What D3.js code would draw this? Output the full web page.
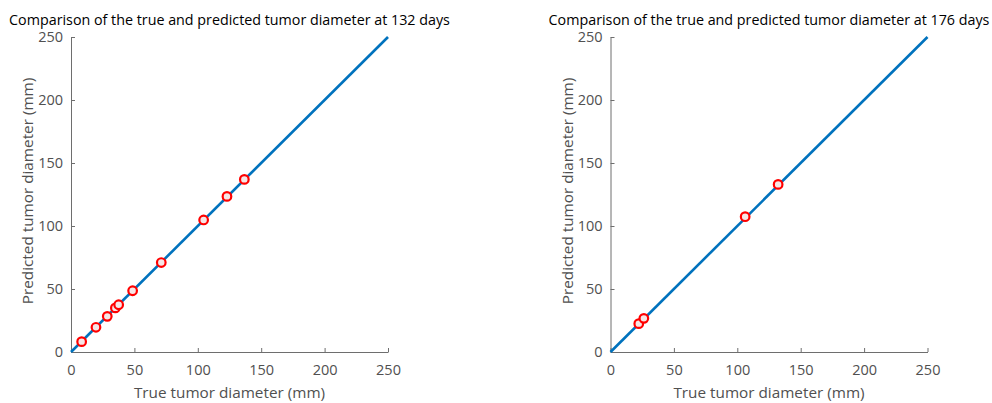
<!DOCTYPE html>
<html>
<head>
<meta charset="utf-8">
<script src="https://cdn.jsdelivr.net/npm/d3@7"></script>
<style>
  html, body { margin: 0; padding: 0; background: #fff; }
  svg { display: block; }
  text { font-family: "Open Sans", "Noto Sans", sans-serif; }
</style>
</head>
<body>
<svg id="chart" width="992" height="403"></svg>
<script>
// Observed vs. predicted tumor diameters (mm) at two time points
const titles = [
  "Comparison of the true and predicted tumor diameter at 132 days",
  "Comparison of the true and predicted tumor diameter at 176 days"
];
const trueDiam132 = [8.4, 19.7, 28.6, 35.0, 37.6, 48.6, 71.2, 104.6, 123.0, 136.7];
const predDiam132 = [8.2, 19.6, 28.3, 35.0, 37.5, 48.6, 71.0, 104.8, 123.5, 137.0];
const trueDiam176 = [22.3, 26.3, 106.2, 132.2];
const predDiam176 = [22.5, 26.7, 107.4, 133.0];
const tickValues = [0, 50, 100, 150, 200, 250];
const axisDomain = [0, 250];
const xLabel = "True tumor diameter (mm)";
const yLabel = "Predicted tumor diameter (mm)";

const svg = d3.select("#chart");

const panels = [
  { title: titles[0], xs: trueDiam132, ys: predDiam132, left: 71 },
  { title: titles[1], xs: trueDiam176, ys: predDiam176, left: 610.5 }
];

const plotW = 317, plotTop = 37, plotBottom = 352;
const axisColor = "#6e6e6e";
const labelColor = "#505050";

panels.forEach(p => {
  const x = d3.scaleLinear().domain(axisDomain).range([p.left, p.left + plotW]);
  const y = d3.scaleLinear().domain(axisDomain).range([plotBottom, plotTop]);
  const g = svg.append("g");

  // x axis with inward ticks
  const xAxis = g.append("g")
    .attr("transform", `translate(0,${plotBottom})`)
    .call(d3.axisBottom(x).tickValues(tickValues).tickSizeInner(-4).tickSizeOuter(0).tickPadding(10));
  // y axis with inward ticks
  const yAxis = g.append("g")
    .attr("transform", `translate(${p.left},0)`)
    .call(d3.axisLeft(y).tickValues(tickValues).tickSizeInner(-4).tickSizeOuter(0).tickPadding(8));

  [xAxis, yAxis].forEach(a => {
    a.select(".domain").attr("stroke", axisColor).attr("stroke-width", 1);
    a.selectAll(".tick line").attr("stroke", axisColor);
    a.selectAll(".tick text").attr("fill", labelColor).style("font-size", "14.5px");
  });
  xAxis.selectAll(".tick text").attr("dy", "0.9em");

  // identity reference line
  g.append("line")
    .attr("x1", x(axisDomain[0])).attr("y1", y(axisDomain[0]))
    .attr("x2", x(axisDomain[1])).attr("y2", y(axisDomain[1]))
    .attr("stroke", "#0072BD").attr("stroke-width", 2.6);

  // sample markers
  g.selectAll("circle.pt")
    .data(p.xs.map((v, i) => [v, p.ys[i]]))
    .join("circle")
    .attr("class", "pt")
    .attr("cx", d => x(d[0]))
    .attr("cy", d => y(d[1]))
    .attr("r", 4.3)
    .attr("fill", "#f6e6e6")
    .attr("stroke", "#ff0000")
    .attr("stroke-width", 2.2);

  const cx = p.left + plotW / 2;
  g.append("text")
    .attr("x", cx).attr("y", 25)
    .attr("text-anchor", "middle")
    .attr("fill", "#000")
    .style("font-size", "14.3px")
    .text(p.title);

  g.append("text")
    .attr("x", cx).attr("y", 398)
    .attr("text-anchor", "middle")
    .attr("fill", labelColor)
    .style("font-size", "15.3px")
    .text(xLabel);

  g.append("text")
    .attr("transform", `translate(${p.left - 38},191) rotate(-90)`)
    .attr("text-anchor", "middle")
    .attr("fill", labelColor)
    .style("font-size", "15.3px")
    .text(yLabel);
});
</script>
</body>
</html>
